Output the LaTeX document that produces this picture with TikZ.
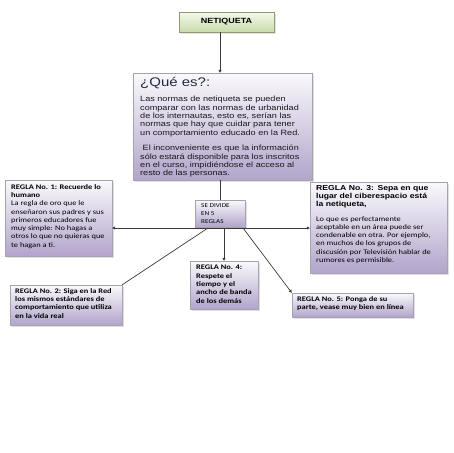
\documentclass[tikz,border=0pt]{standalone}
\usepackage{fontspec}
\usetikzlibrary{shadows,arrows.meta}
\newfontfamily\calfnt[FakeStretch=1.2]{Carlito}
\newfontfamily\arifnt[FakeStretch=1.2]{Liberation Sans}
\definecolor{lavd}{HTML}{B2A4CB}
\definecolor{lavl}{HTML}{FAF9FC}
\definecolor{grnd}{HTML}{C9DCAB}
\definecolor{grnl}{HTML}{F4F8EC}
\definecolor{edgec}{HTML}{A6A2B0}
\definecolor{conn}{HTML}{3A3A3A}
\definecolor{titc}{HTML}{1F2A44}
\newcommand{\jl}[1]{\makebox[\linewidth][s]{#1}\\}
\tikzset{
  lavbox/.style={draw=edgec, line width=0.4pt, top color=lavl, bottom color=lavd,
    drop shadow={opacity=0.25, shadow xshift=1.5pt, shadow yshift=-1.5pt}, inner sep=0pt},
  grnbox/.style={draw=grnd!70!black, line width=0.4pt, top color=grnl, bottom color=grnd,
    drop shadow={opacity=0.2, shadow xshift=1.5pt, shadow yshift=-1.5pt}, inner sep=0pt},
  txt/.style={anchor=north west, inner sep=0pt, align=left},
  rtxt/.style={txt, font=\calfnt\fontsize{7}{8.3}\selectfont},
  conline/.style={draw=conn, line width=0.7pt},
  arr/.style={conline, -{Triangle[length=3pt,width=3pt]}}
}
\begin{document}
\begin{tikzpicture}[x=1pt,y=-1pt]
\useasboundingbox (0,0) rectangle (453,453);
% boxes
\node[grnbox, minimum width=95pt, minimum height=20pt] (net) at (226.5,22) {};
\node[txt, anchor=center, font=\arifnt\bfseries\fontsize{7.5}{9}\selectfont] (nett) at (net.center) {NETIQUETA};
\node[lavbox, minimum width=179pt, minimum height=107pt] (que) at (222.5,126.5) {};
\node[anchor=base west, inner sep=0pt, font=\arifnt\fontsize{12.5}{14}\selectfont, text=titc] (quet) at (140,86) {¿Qué es?:};
\node[txt, text width=165pt, font=\arifnt\fontsize{7.6}{8.4}\selectfont, text=black!90] (queb) at (140,96) {%
\jl{Las normas de netiqueta se pueden}
\jl{comparar con las normas de urbanidad}
\jl{de los internautas, esto es, serían las}
\jl{normas que hay que cuidar para tener}
un comportamiento educado en la Red.\\[7pt]
\jl{\ El inconveniente es que la información}
\jl{sólo estará disponible para los inscritos}
\jl{en el curso, impidiéndose el acceso al}
resto de las personas.};
\node[lavbox, minimum width=50pt, minimum height=27pt] (div) at (220,213.5) {};
\node[txt, font=\calfnt\fontsize{6}{8}\selectfont] (divt) at (201,203) {SE DIVIDE\\EN 5\\REGLAS};
\node[lavbox, minimum width=107pt, minimum height=76pt] (r1) at (58.5,218) {};
\node[rtxt] (r1t) at (11,184) {\textbf{REGLA No. 1: Recuerde lo}\\\textbf{humano}\\La regla de oro que le\\enseñaron sus padres y sus\\primeros educadores fue\\muy simple: No hagas a\\otros lo que no quieras que\\te hagan a ti.};
\node[lavbox, minimum width=137pt, minimum height=91pt] (r3) at (378.5,227.5) {};
\node[txt, text width=124pt, font=\arifnt\bfseries\fontsize{7.2}{8}\selectfont] (r3h) at (316,185) {%
\jl{REGLA No. 3: Sepa en que}
\jl{lugar del ciberespacio está}
la netiqueta,};
\node[rtxt] (r3t) at (316,216) {Lo que es perfectamente\\aceptable en un área puede ser\\condenable en otra. Por ejemplo,\\en muchos de los grupos de\\discusión por Televisión hablar de\\rumores es permisible.};
\node[lavbox, minimum width=68pt, minimum height=48pt] (r4) at (224,285) {};
\node[rtxt, font=\calfnt\bfseries\fontsize{7}{8.4}\selectfont] (r4t) at (196,265) {REGLA No. 4:\\Respete el\\tiempo y el\\ancho de banda\\de los demás};
\node[lavbox, minimum width=112pt, minimum height=40pt] (r2) at (66,305) {};
\node[rtxt, font=\calfnt\bfseries\fontsize{7}{8.4}\selectfont] (r2t) at (15,288) {REGLA No. 2: Siga en la Red\\los mismos estándares de\\comportamiento que utiliza\\en la vida real};
\node[lavbox, minimum width=121pt, minimum height=24pt] (r5) at (352.5,305) {};
\node[rtxt, font=\calfnt\bfseries\fontsize{7}{8.4}\selectfont] (r5t) at (297,296) {REGLA No. 5: Ponga de su\\parte, vease muy bien en línea};
% connectors
\coordinate (nq) at (220,32);
\draw[arr] (nq) -- (nq |- que.north);
\coordinate (qd) at (220,180);
\draw[conline] (qd) -- (qd |- div.north);
\coordinate (hl) at (195,228);
\coordinate (hr) at (245,228);
\coordinate (a1) at (r1.east |- hl);
\coordinate (a3) at (r3.west |- hr);
\draw[conline] (hl) -- (hr);
\draw[arr] (hl) -- (a1);
\draw[arr] (hr) -- (a3);
\coordinate (d4) at (224,228);
\draw[arr] (d4) -- (d4 |- r4.north);
\coordinate (d2) at (208,228);
\draw[conline] (d2) -- (r2.north east);
\coordinate (d5) at (243,228);
\draw[arr] (d5) -- (r5.north west);
\end{tikzpicture}
\end{document}
